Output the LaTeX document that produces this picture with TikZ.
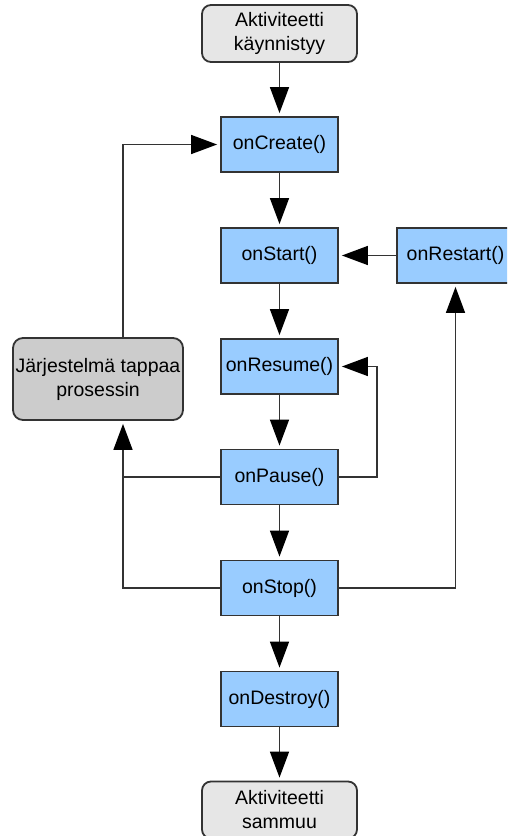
\documentclass[tikz,border=0pt]{standalone}
\usepackage{fontspec}
\setmainfont{Liberation Sans}
\usetikzlibrary{arrows.meta}
\definecolor{fnblue}{HTML}{99CCFF}
\definecolor{termgray}{HTML}{E6E6E6}
\definecolor{killgray}{HTML}{CCCCCC}
\definecolor{linegray}{HTML}{333333}
\begin{document}
\begin{tikzpicture}[x=1pt,y=-1pt,
  every node/.style={font=\fontsize{19.5}{24}\selectfont, align=center, inner sep=0pt},
  fn/.style={draw=linegray, line width=1.8pt, fill=fnblue, minimum width=117pt, minimum height=55pt},
  term/.style={draw=linegray, line width=1.8pt, fill=termgray, rounded corners=9pt, minimum width=155pt, minimum height=57pt},
  kill/.style={draw=linegray, line width=1.8pt, fill=killgray, rounded corners=10pt, minimum width=170pt, minimum height=82pt},
  conn/.style={line width=1.5pt, draw=linegray},
  arr/.style={conn, -{Triangle[length=26pt,width=19pt,color=black]}, shorten >=3pt}
]
\useasboundingbox (0,0) rectangle (507,836);
\clip (0,0) rectangle (507,836);
\node[term] (start) at (279.5,33.5) {Aktiviteetti\\käynnistyy};
\node[fn] (create) at (279.5,144.5) {onCreate()};
\node[fn] (startf) at (279.5,255.5) {onStart()};
\node[fn] (resume) at (279.5,366.5) {onResume()};
\node[fn] (pause) at (279.5,477) {onPause()};
\node[fn] (stop) at (279.5,588) {onStop()};
\node[fn] (destroy) at (279.5,699) {onDestroy()};
\node[term] (end) at (279.5,810) {Aktiviteetti\\sammuu};
\node[fn] (restart) at (455.5,255.5) {onRestart()};
\node[kill] (kill) at (98,379) {Järjestelmä tappaa\\prosessin};
\coordinate (kx) at (123,0);
\coordinate (rx) at (377,0);
\draw[arr] (start) -- (create);
\draw[arr] (create) -- (startf);
\draw[arr] (startf) -- (resume);
\draw[arr] (resume) -- (pause);
\draw[arr] (pause) -- (stop);
\draw[arr] (stop) -- (destroy);
\draw[arr] (destroy) -- (end);
\draw[arr] (restart) -- (startf);
\draw[arr] (kill.north -| kx) |- (create.west);
\draw[arr] (pause.west) -| (kill.south -| kx);
\draw[conn] (stop.west) -| (pause.west -| kx);
\draw[arr] (pause.east) -| (rx |- resume.east) -- (resume.east);
\draw[arr] (stop.east) -| (restart.south);
\end{tikzpicture}
\end{document}
